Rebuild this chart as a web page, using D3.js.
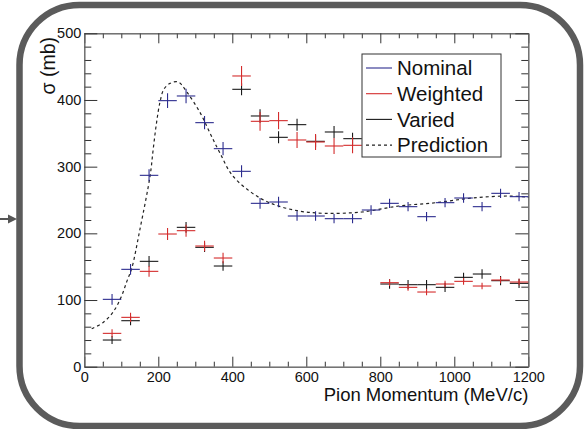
<!DOCTYPE html>
<html>
<head>
<meta charset="utf-8">
<script src="https://cdn.jsdelivr.net/npm/d3@7"></script>
<style>
  body { margin: 0; background: #fff; }
  svg { display: block; font-family: "Liberation Sans", Arial, sans-serif; }
</style>
</head>
<body>
<svg id="chart" width="585" height="429"></svg>
<script>
'use strict';

// bin centres (MeV/c), 50 MeV/c wide
const momentum = [75, 125, 175, 225, 275, 325, 375, 425, 475, 525, 575, 625, 675, 725,
  775, 825, 875, 925, 975, 1025, 1075, 1125, 1175];

const nominal = [101, 146, 287, 399, 406, 366, 327, 293, 245, 247, 226, 226, 222, 222,
  235, 245, 240, 225, 246, 253, 240, 260, 255];
const nominalErr = [8, 8, 9, 11, 11, 10, 10, 9, 8, 8, 7, 7, 7, 7, 7, 7, 7, 7, 7, 7, 7, 7, 7];

const weighted = [50, 74, 143, 199, 204, 181, 163, 436, 368, 369, 340, 337, 331, 332,
  null, 126, 119, 112, 124, 128, 121, 130, 127];
const weightedErr = [6, 7, 8, 9, 9, 8, 8, 15, 14, 13, 12, 12, 12, 12, 0, 5, 5, 5, 5, 5, 5, 5, 5];

const varied = [40, 69, 158, null, 209, 179, 151, 416, 376, 344, 363, 338, 352, 342,
  null, 124, 123, 123, 119, 134, 139, 129, 125];
const variedErr = [6, 7, 8, 0, 8, 7, 7, 9, 10, 9, 9, 9, 9, 9, 0, 7, 7, 7, 7, 7, 7, 7, 7];

const predMomentum = [20, 50, 78, 100, 115, 128, 150, 178, 186, 195, 205, 215, 232, 254,
  277, 313, 340, 367, 400, 450, 500, 575, 650, 750, 850, 950, 1050, 1150, 1200];
const predSigma = [57, 66, 82, 105, 128, 147, 205, 287, 325, 365, 398, 416, 425, 427,
  412, 381, 350, 320, 287, 262, 246, 234, 230, 232, 241, 246, 253, 256, 254];

const legendNames = ['Nominal', 'Weighted', 'Varied', 'Prediction'];
const colors = { Nominal: '#2c2c8e', Weighted: '#d42c2c', Varied: '#1a1a1a', Prediction: '#222' };

const halfBin = 25;

let svg = d3.select('#chart');

let x = d3.scaleLinear().domain([0, 1200]).range([84.3, 528.3]);
let y = d3.scaleLinear().domain([0, 500]).range([366.7, 33.3]);

// outer rounded frame + arrow
svg.append('rect')
  .attr('x', 19.5).attr('y', 5)
  .attr('width', 560.5).attr('height', 421)
  .attr('rx', 60).attr('ry', 60)
  .attr('fill', 'none')
  .attr('stroke', '#5b5b5b')
  .attr('stroke-width', 6.5);

svg.append('line')
  .attr('x1', 0).attr('x2', 10)
  .attr('y1', 219).attr('y2', 219)
  .attr('stroke', '#555').attr('stroke-width', 2);
svg.append('path')
  .attr('d', 'M8,214.5L17,219L8,223.5Z')
  .attr('fill', '#555');

// axes, ROOT style ticks pointing inward
function styleAxis(g) {
  g.select('.domain').attr('stroke', '#666');
  g.selectAll('.tick line').attr('stroke', '#333');
  g.selectAll('text')
    .attr('fill', '#111')
    .style('font-size', '14.5px')
    .style('font-family', '"Liberation Sans", Arial, sans-serif');
}

let fmt = d3.format('d');
let xMajor = d3.range(0, 1201, 200);
let xMinor = d3.range(0, 1201, 50).filter(v => v % 200 !== 0);
let yMajor = d3.range(0, 501, 100);
let yMinor = d3.range(0, 501, 20).filter(v => v % 100 !== 0);

svg.append('g')
  .attr('transform', `translate(0,${y(0)})`)
  .call(d3.axisBottom(x).tickValues(xMinor).tickSize(-5).tickSizeOuter(0).tickFormat(''))
  .call(styleAxis);
svg.append('g')
  .attr('transform', `translate(0,${y(0)})`)
  .call(d3.axisBottom(x).tickValues(xMajor).tickSize(-10).tickSizeOuter(0).tickPadding(5).tickFormat(fmt))
  .call(styleAxis);

svg.append('g')
  .attr('transform', `translate(0,${y(500)})`)
  .call(d3.axisTop(x).tickValues(xMinor).tickSize(-5).tickSizeOuter(0).tickFormat(''))
  .call(styleAxis);
svg.append('g')
  .attr('transform', `translate(0,${y(500)})`)
  .call(d3.axisTop(x).tickValues(xMajor).tickSize(-10).tickSizeOuter(0).tickFormat(''))
  .call(styleAxis);

svg.append('g')
  .attr('transform', `translate(${x(0)},0)`)
  .call(d3.axisLeft(y).tickValues(yMinor).tickSize(-7).tickSizeOuter(0).tickFormat(''))
  .call(styleAxis);
svg.append('g')
  .attr('transform', `translate(${x(0)},0)`)
  .call(d3.axisLeft(y).tickValues(yMajor).tickSize(-13).tickSizeOuter(0).tickPadding(3).tickFormat(fmt))
  .call(styleAxis);

svg.append('g')
  .attr('transform', `translate(${x(1200)},0)`)
  .call(d3.axisRight(y).tickValues(yMinor).tickSize(-7).tickSizeOuter(0).tickFormat(''))
  .call(styleAxis);
svg.append('g')
  .attr('transform', `translate(${x(1200)},0)`)
  .call(d3.axisRight(y).tickValues(yMajor).tickSize(-13).tickSizeOuter(0).tickFormat(''))
  .call(styleAxis);

// axis titles
svg.append('text')
  .attr('x', x(1200)).attr('y', 401)
  .attr('text-anchor', 'end')
  .style('font-size', '18.5px')
  .attr('fill', '#111')
  .text('Pion Momentum (MeV/c)');

svg.append('text')
  .attr('transform', `translate(55,37) rotate(-90)`)
  .attr('text-anchor', 'end')
  .style('font-size', '19.5px')
  .attr('fill', '#111')
  .text('σ (mb)');

// prediction curve
let predLine = d3.line()
  .x((d, i) => x(predMomentum[i]))
  .y(d => y(d))
  .curve(d3.curveCatmullRom);

svg.append('path')
  .datum(predSigma)
  .attr('d', predLine)
  .attr('fill', 'none')
  .attr('stroke', colors.Prediction)
  .attr('stroke-width', 1.2)
  .attr('stroke-dasharray', '3,3');

// error-bar crosses
function drawSeries(values, errs, color) {
  let pts = momentum.map((m, i) => ({ m, v: values[i], e: errs[i] }))
    .filter(d => d.v !== null);
  let g = svg.append('g').attr('stroke', color).attr('stroke-width', 1.1);
  g.selectAll('.h').data(pts).enter().append('line')
    .attr('x1', d => x(d.m - halfBin)).attr('x2', d => x(d.m + halfBin))
    .attr('y1', d => y(d.v)).attr('y2', d => y(d.v));
  g.selectAll('.v').data(pts).enter().append('line')
    .attr('x1', d => x(d.m)).attr('x2', d => x(d.m))
    .attr('y1', d => y(d.v - d.e)).attr('y2', d => y(d.v + d.e));
}

drawSeries(varied, variedErr, colors.Varied);
drawSeries(weighted, weightedErr, colors.Weighted);
drawSeries(nominal, nominalErr, colors.Nominal);

// legend
let legend = svg.append('g');
legend.append('rect')
  .attr('x', 362).attr('y', 54)
  .attr('width', 139).attr('height', 103)
  .attr('fill', '#fff')
  .attr('stroke', '#333')
  .attr('stroke-width', 1);

legendNames.forEach((name, i) => {
  let ly = 68 + i * 25.7;
  legend.append('line')
    .attr('x1', 366).attr('x2', 392)
    .attr('y1', ly).attr('y2', ly)
    .attr('stroke', colors[name])
    .attr('stroke-width', name === 'Prediction' ? 1.2 : 1.1)
    .attr('stroke-dasharray', name === 'Prediction' ? '3,3' : null);
  legend.append('text')
    .attr('x', 397).attr('y', ly)
    .attr('dy', '0.36em')
    .style('font-size', '20.5px')
    .attr('fill', '#111')
    .text(name);
});
</script>
</body>
</html>
